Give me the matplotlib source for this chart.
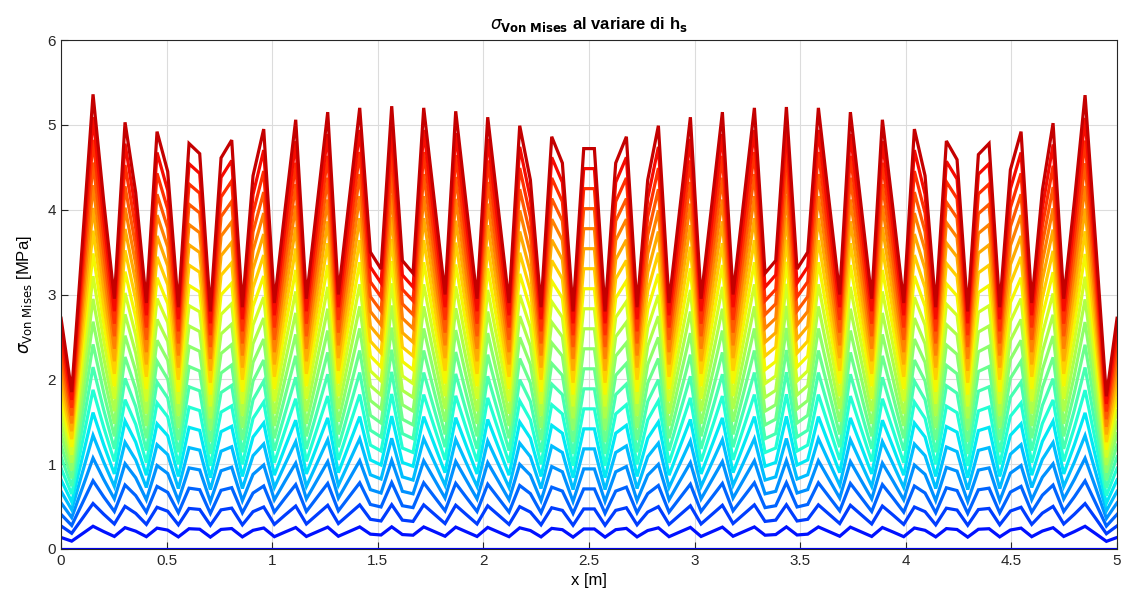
import matplotlib
matplotlib.use('Agg')
import matplotlib.pyplot as plt
import numpy as np

# mesh nodes along the beam [m]
x_nodes = np.linspace(0, 5, 100)

# von Mises stress of the largest h_s at each node [MPa]
sigma_top = [2.72, 1.85, 3.60, 5.36, 4.10, 2.95, 5.03, 4.20, 2.90, 4.92,
             4.45, 2.85, 4.78, 4.66, 2.80, 4.61, 4.82, 2.85, 4.40, 4.95,
             2.90, 4.00, 5.06, 2.95, 4.05, 5.15, 3.00, 4.10, 5.20, 3.50,
             3.30, 5.22, 3.40, 3.25, 5.20, 4.10, 3.00, 5.16, 4.05, 2.95,
             5.09, 4.00, 2.90, 4.99, 4.35, 2.85, 4.86, 4.55, 2.80, 4.72,
             4.72, 2.80, 4.55, 4.86, 2.85, 4.35, 4.99, 2.90, 4.00, 5.09,
             2.95, 4.05, 5.15, 3.00, 4.10, 5.20, 3.25, 3.40, 5.21, 3.30,
             3.50, 5.20, 4.10, 3.00, 5.15, 4.05, 2.95, 5.06, 4.00, 2.90,
             4.95, 4.40, 2.85, 4.81, 4.59, 2.80, 4.65, 4.78, 2.85, 4.47,
             4.92, 2.90, 4.23, 5.02, 2.95, 4.10, 5.35, 3.60, 1.80, 2.72]

# fraction of the top curve reached by each h_s (bottom -> top)
h_frac = [0.00, 0.05, 0.10, 0.15, 0.20, 0.25, 0.30, 0.35, 0.40, 0.45, 0.50,
          0.55, 0.60, 0.65, 0.70, 0.75, 0.80, 0.85, 0.90, 0.95, 1.00]

plt.rcParams['font.family'] = ['Liberation Sans', 'DejaVu Sans']

fig = plt.figure(figsize=(11.22, 6.11), dpi=100)
ax = fig.add_axes([0.0544, 0.1015, 0.9412, 0.833])

cmap = plt.get_cmap('jet')
top = np.array(sigma_top)
n = len(h_frac)
for i, f in enumerate(h_frac):
    ax.plot(x_nodes, f * top, color=cmap(0.1 + 0.84 * i / (n - 1)), lw=2.3,
            solid_joinstyle='miter')

ax.set_xlim(0, 5)
ax.set_ylim(0, 6)
ax.set_xticks(np.arange(0, 5.01, 0.5))
ax.set_xticklabels(['0', '0.5', '1', '1.5', '2', '2.5', '3', '3.5', '4', '4.5', '5'])
ax.set_yticks(range(7))
ax.grid(True, color='#dcdcdc', lw=0.8)
ax.set_axisbelow(True)
ax.tick_params(direction='in', labelsize=11, colors='#262626', length=5)
for s in ax.spines.values():
    s.set_color('#262626')
    s.set_linewidth(0.8)

ax.set_title(r'$\sigma_{\mathbf{Von\ Mises}}$ al variare di h$_\mathbf{s}$',
             fontsize=12, fontweight='bold', pad=8)
ax.set_xlabel('x [m]', fontsize=12, labelpad=4)
ax.set_ylabel(r'$\sigma_{\mathrm{Von\ Mises}}$ [MPa]', fontsize=12, labelpad=10)

fig.savefig('out.png', dpi=100, facecolor='white')
